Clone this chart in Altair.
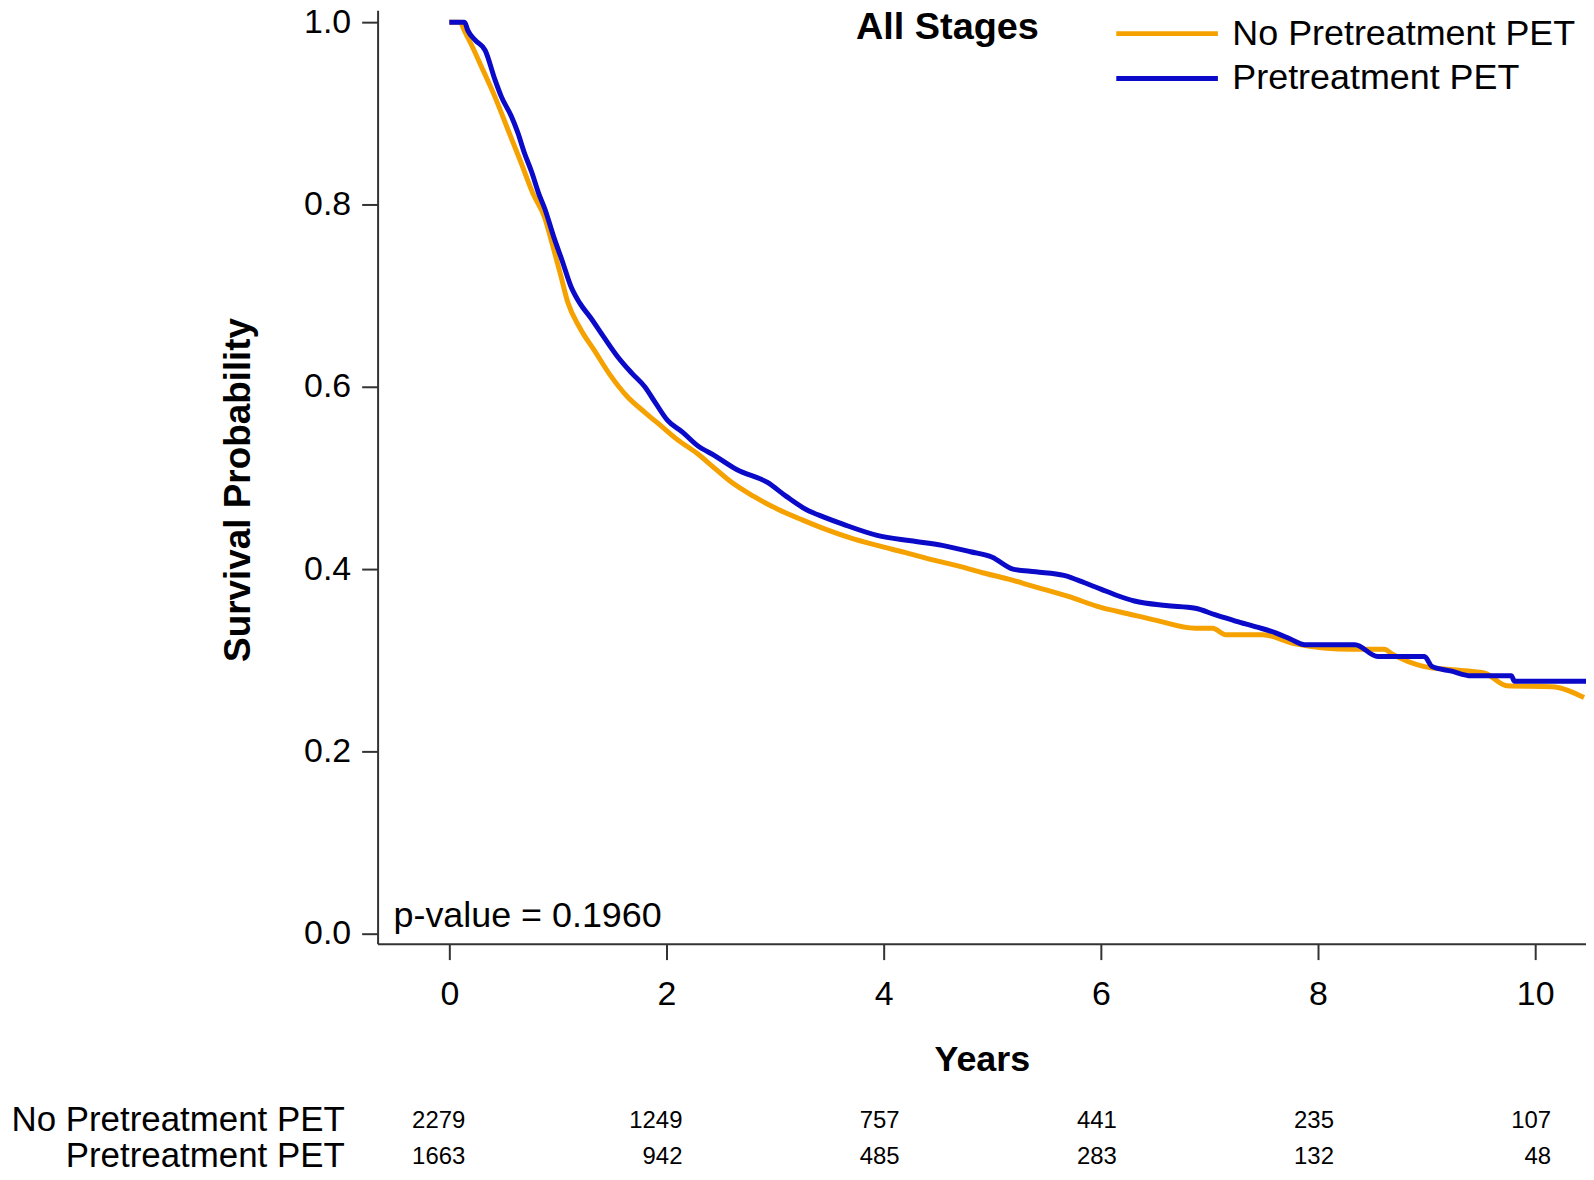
import altair as alt
import pandas as pd

FONT = "Liberation Sans"

# Kaplan-Meier curves (years, survival probability)
no_pet_years = [0, 0.10, 0.14, 0.20, 0.30, 0.42, 0.54, 0.66, 0.77, 0.88, 0.94, 1.02, 1.09,
                1.20, 1.34, 1.48, 1.64, 1.80, 1.95, 2.10, 2.28, 2.45, 2.59, 2.80, 3.02, 3.25,
                3.48, 3.70, 3.94, 4.20, 4.45, 4.70, 4.91, 5.15, 5.38, 5.70, 6.0, 6.25, 6.5,
                6.87, 7.03, 7.15, 7.49, 7.79, 8.31, 8.61, 8.68, 8.98, 9.19, 9.53, 9.74,
                10.15, 10.45]
no_pet_surv = [1.0, 1.0, 0.990, 0.976, 0.950, 0.918, 0.882, 0.846, 0.812, 0.785, 0.760, 0.725,
               0.693, 0.665, 0.639, 0.613, 0.589, 0.572, 0.557, 0.542, 0.527, 0.510, 0.496,
               0.480, 0.466, 0.454, 0.443, 0.434, 0.426, 0.418, 0.410, 0.403, 0.396, 0.389,
               0.381, 0.370, 0.358, 0.351, 0.344, 0.335, 0.335, 0.328, 0.328, 0.318, 0.312,
               0.312, 0.307, 0.293, 0.290, 0.286, 0.272, 0.271, 0.259]

pet_years = [0, 0.14, 0.17, 0.24, 0.33, 0.42, 0.48, 0.57, 0.63, 0.69, 0.76, 0.82, 0.88, 0.96,
             1.04, 1.12, 1.20, 1.30, 1.42, 1.55, 1.68, 1.80, 1.90, 2.01, 2.15, 2.28, 2.45,
             2.65, 2.93, 3.10, 3.29, 3.45, 3.63, 3.94, 4.25, 4.54, 4.80, 5.0, 5.19, 5.40,
             5.66, 5.85, 6.0, 6.15, 6.31, 6.60, 6.87, 7.05, 7.24, 7.45, 7.61, 7.75, 7.88,
             8.34, 8.55, 8.98, 9.05, 9.23, 9.41, 9.78, 9.81, 10.47]
pet_surv = [1.0, 1.0, 0.991, 0.980, 0.969, 0.937, 0.918, 0.897, 0.879, 0.857, 0.835, 0.813,
            0.795, 0.765, 0.738, 0.710, 0.692, 0.676, 0.655, 0.633, 0.615, 0.600, 0.582, 0.563,
            0.550, 0.536, 0.524, 0.509, 0.495, 0.480, 0.465, 0.457, 0.449, 0.437, 0.431, 0.426,
            0.419, 0.413, 0.400, 0.397, 0.393, 0.385, 0.378, 0.371, 0.365, 0.360, 0.357, 0.350,
            0.343, 0.336, 0.330, 0.323, 0.317, 0.317, 0.304, 0.304, 0.293, 0.288, 0.283, 0.283,
            0.277, 0.277]

groups = ["No Pretreatment PET", "Pretreatment PET"]
colors = ["#F5A100", "#0A0AC8"]

risk_years = [0, 2, 4, 6, 8, 10]
no_pet_at_risk = [2279, 1249, 757, 441, 235, 107]
pet_at_risk = [1663, 942, 485, 283, 132, 48]

x_ticks = [0, 2, 4, 6, 8, 10]
y_ticks = [0.0, 0.2, 0.4, 0.6, 0.8, 1.0]

curves = pd.concat([
    pd.DataFrame({"t": no_pet_years, "s": no_pet_surv, "group": groups[0],
                  "k": list(range(len(no_pet_years)))}),
    pd.DataFrame({"t": pet_years, "s": pet_surv, "group": groups[1],
                  "k": list(range(len(pet_years)))}),
])

X_DOM = [-0.6606, 10.468]
Y_DOM = [-0.01093, 1.0131]
W, H = 1213, 937

x_scale = alt.Scale(domain=X_DOM, nice=False, zero=False)
y_scale = alt.Scale(domain=Y_DOM, nice=False, zero=False)

x_axis = alt.Axis(values=x_ticks, format="d", title="Years",
                  titleY=127, titleBaseline="alphabetic", titleFontSize=36,
                  titleFontWeight="bold", titleFont=FONT, titleColor="black",
                  labelPadding=18)

lines = alt.Chart(curves).mark_line(strokeWidth=5, strokeJoin="round",
                                    interpolate="monotone").encode(
    x=alt.X("t:Q", scale=x_scale, axis=x_axis),
    y=alt.Y("s:Q", scale=y_scale,
            axis=alt.Axis(values=y_ticks, format=".1f", title="Survival Probability",
                          titleX=-129, titleY=481, titleAngle=270, titleAlign="center",
                          titleBaseline="alphabetic", titleFontSize=37,
                          titleFontWeight="bold", titleFont=FONT, titleColor="black",
                          labelPadding=11)),
    color=alt.Color("group:N",
                    scale=alt.Scale(domain=groups, range=colors),
                    legend=alt.Legend(title=None, orient="none", legendX=739, legendY=6,
                                      symbolType="stroke", symbolSize=10404,
                                      symbolStrokeWidth=5, labelFontSize=36,
                                      labelFont=FONT, labelColor="black",
                                      labelOffset=12, rowPadding=8, padding=0,
                                      clipHeight=35, labelLimit=0)),
    detail="group:N",
    order="k:Q",
)

title_df = pd.DataFrame({"label": ["All Stages"]})
title_txt = alt.Chart(title_df).mark_text(
    font=FONT, fontSize=38, fontWeight="bold", align="center", baseline="alphabetic",
    color="black"
).encode(x=alt.value(572), y=alt.value(29), text="label:N")

p_df = pd.DataFrame({"label": ["p-value = 0.1960"]})
p_txt = alt.Chart(p_df).mark_text(
    font=FONT, fontSize=36, align="left", baseline="alphabetic", color="black"
).encode(x=alt.value(16), y=alt.value(920), text="label:N")

row0_lbl = alt.Chart(pd.DataFrame({"label": [groups[0]]})).mark_text(
    font=FONT, fontSize=35, align="right", baseline="alphabetic", color="black"
).encode(x=alt.value(-33), y=alt.value(1125), text="label:N")
row1_lbl = alt.Chart(pd.DataFrame({"label": [groups[1]]})).mark_text(
    font=FONT, fontSize=35, align="right", baseline="alphabetic", color="black"
).encode(x=alt.value(-33), y=alt.value(1161), text="label:N")

risk0 = alt.Chart(pd.DataFrame({"t": risk_years, "n": no_pet_at_risk})).mark_text(
    font=FONT, fontSize=24, align="right", baseline="alphabetic", dx=16, color="black"
).encode(x=alt.X("t:Q", scale=x_scale, axis=x_axis), y=alt.value(1122), text="n:Q")
risk1 = alt.Chart(pd.DataFrame({"t": risk_years, "n": pet_at_risk})).mark_text(
    font=FONT, fontSize=24, align="right", baseline="alphabetic", dx=16, color="black"
).encode(x=alt.X("t:Q", scale=x_scale, axis=x_axis), y=alt.value(1158), text="n:Q")

chart = alt.layer(lines, title_txt, p_txt, row0_lbl, row1_lbl, risk0, risk1).properties(
    width=W, height=H,
    autosize=alt.AutoSizeParams(type="none"),
    padding={"left": 371, "top": 0, "right": 0, "bottom": 227},
).configure_view(stroke=None).configure_axis(
    domainColor="#333333", domainWidth=2, tickColor="#333333", tickWidth=2,
    tickSize=16, labelFont=FONT, labelFontSize=34, labelColor="black", grid=False,
)

chart.save("out.html", embed_options={"renderer": "svg", "actions": False})
